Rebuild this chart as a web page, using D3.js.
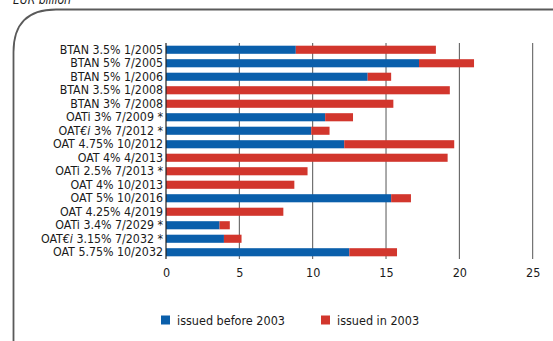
<!DOCTYPE html>
<html>
<head>
<meta charset="utf-8">
<script src="https://cdn.jsdelivr.net/npm/d3@7"></script>
<style>
  html, body { margin: 0; padding: 0; background: #fff; }
  svg { display: block; }
  text { font-family: "DejaVu Sans Condensed", "Liberation Sans Narrow", sans-serif; fill: #1a1a1a; }
</style>
</head>
<body>
<svg id="chart" width="553" height="341"></svg>
<script>
// Bond lines, top to bottom
const bonds = [
  "BTAN 3.5% 1/2005",
  "BTAN 5% 7/2005",
  "BTAN 5% 1/2006",
  "BTAN 3.5% 1/2008",
  "BTAN 3% 7/2008",
  "OATi 3% 7/2009 *",
  "OAT€i 3% 7/2012 *",
  "OAT 4.75% 10/2012",
  "OAT 4% 4/2013",
  "OATi 2.5% 7/2013 *",
  "OAT 4% 10/2013",
  "OAT 5% 10/2016",
  "OAT 4.25% 4/2019",
  "OATi 3.4% 7/2029 *",
  "OAT€i 3.15% 7/2032 *",
  "OAT 5.75% 10/2032"
];
// Outstanding amounts, EUR billion
const issuedBefore2003 = [8.85, 17.25, 13.75, 0, 0, 10.85, 9.9, 12.15, 0, 0, 0, 15.35, 0, 3.65, 3.95, 12.5];
const issuedIn2003     = [9.55, 3.75, 1.6, 19.35, 15.5, 1.9, 1.25, 7.5, 19.2, 9.65, 8.75, 1.35, 8.0, 0.7, 1.2, 3.25];
const xTicks = [0, 5, 10, 15, 20, 25];
const seriesNames = ["issued before 2003", "issued in 2003"];
const colors = ["#0a5fab", "#d2362d"];

const svg = d3.select("#chart");

// Rounded frame and unit caption
svg.append("path")
  .attr("d", "M13.5,341 L13.5,52 Q13.5,9.5 56,9.5 L553,9.5")
  .attr("fill", "none").attr("stroke", "#5a5a5a").attr("stroke-width", 1.8);
svg.append("text").attr("x", 13).attr("y", 4)
  .style("font-style", "italic").style("font-size", "12px").attr("fill", "#333")
  .text("EUR billion");

const x = d3.scaleLinear().domain([0, 25]).range([166, 532.7]);
const y = d3.scaleBand().domain(bonds).range([43, 259]).paddingInner(0.4).paddingOuter(0.2);

// Gridlines
svg.append("g").selectAll("line").data(xTicks.slice(1)).join("line")
  .attr("x1", d => x(d)).attr("x2", d => x(d))
  .attr("y1", 43).attr("y2", 259)
  .attr("stroke", "#555").attr("stroke-width", 1);

// Stacked bars
const rows = bonds.map((b, i) => ({ b, v: [issuedBefore2003[i], issuedIn2003[i]] }));
const stack = d3.stack().keys([0, 1]).value((d, k) => d.v[k]);
const layers = stack(rows);
svg.append("g").selectAll("g").data(layers).join("g")
  .attr("fill", (d, i) => colors[i])
  .selectAll("rect").data(d => d).join("rect")
  .attr("x", d => x(d[0]))
  .attr("width", d => Math.max(0, x(d[1]) - x(d[0])))
  .attr("y", d => y(d.data.b))
  .attr("height", y.bandwidth());

// Vertical axis with category labels
const yAxis = svg.append("g").attr("transform", "translate(166,0)")
  .call(d3.axisLeft(y).tickSize(0).tickPadding(3));
yAxis.select(".domain").attr("stroke", "#222").attr("stroke-width", 1.2).attr("d", "M0,43V259");
yAxis.selectAll(".tick text")
  .style("font-size", "12.3px").attr("fill", "#1a1a1a")
  .each(function(d) {
    const t = d3.select(this);
    if (d.includes("€i")) {
      const parts = d.split("€i");
      t.text(null);
      t.append("tspan").text(parts[0]);
      t.append("tspan").style("font-style", "italic").text("€i");
      t.append("tspan").text(parts[1]);
    }
  });

// Bottom value labels
const xAxis = svg.append("g").attr("transform", "translate(0,259)")
  .call(d3.axisBottom(x).tickValues(xTicks).tickSize(0).tickPadding(9));
xAxis.select(".domain").remove();
xAxis.selectAll(".tick text").style("font-size", "12.5px").attr("fill", "#222");

// Legend
const legend = svg.append("g");
const lx = [161, 321];
seriesNames.forEach((name, i) => {
  legend.append("rect").attr("x", lx[i]).attr("y", 315.5).attr("width", 9).attr("height", 9).attr("fill", colors[i]);
  legend.append("text").attr("x", lx[i] + 16).attr("y", 324.5)
    .style("font-size", "12.5px").attr("fill", "#222").text(name);
});
</script>
</body>
</html>
